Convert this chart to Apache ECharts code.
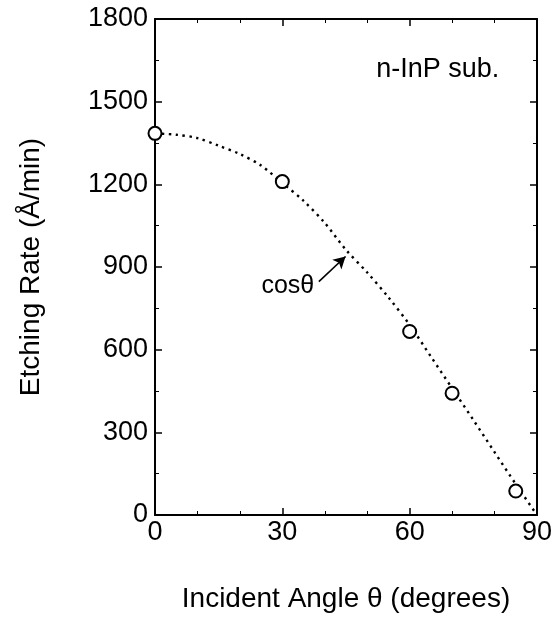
<!DOCTYPE html>
<html>
<head>
<meta charset="utf-8">
<script src="https://cdn.jsdelivr.net/npm/echarts@6/dist/echarts.min.js"></script>
<style>html,body{margin:0;padding:0;background:#fff}#c{width:555px;height:618px}</style>
</head>
<body>
<div id="c"></div>
<script>
// Measured points (open circles)
const measuredAngles = [0, 30, 60, 70, 85];
const measuredRates  = [1385, 1210, 666, 442, 87];
// cos(theta) dotted curve
const curveAngles = [0, 5, 10, 15, 20, 25, 30, 35, 40, 45, 50, 55, 60, 65, 70, 75, 80, 85, 90];
const curveRates  = [1385, 1380, 1368, 1340, 1310, 1268, 1205, 1140, 1060, 962, 880, 790, 690, 575, 460, 345, 228, 112, 0];
// Axis ticks
const xTicks = [0, 30, 60, 90];
const yTicks = [0, 300, 600, 900, 1200, 1500, 1800];
// Annotations (in data units)
const arrowFrom = [38.6, 847];
const arrowTo   = [44.9, 938];
const cosLabelAt = [31.3, 829];
const subLabelAt = [66.6, 1615];

const FONT = '"Liberation Sans", Arial, Helvetica, sans-serif';
const chart = echarts.init(document.getElementById('c'), null, {renderer: 'canvas'});

function axis(extra, split) {
  return Object.assign({
    type: 'value',
    axisLine: {show: true, onZero: false, lineStyle: {color: '#000', width: 2}},
    axisTick: {show: true, inside: true, length: 7, lineStyle: {color: '#000', width: 1.5}},
    minorTick: {show: true, splitNumber: split, length: 4, lineStyle: {color: '#000', width: 1}},
    splitLine: {show: false},
    minorSplitLine: {show: false},
    axisLabel: {show: false}
  }, extra);
}

chart.setOption({
  animation: false,
  backgroundColor: '#fff',
  grid: {left: 155, right: 15, top: 19, bottom: 102, containLabel: false},
  xAxis: [
    axis({
      position: 'bottom', min: xTicks[0], max: xTicks[xTicks.length - 1], interval: 30,
      axisLabel: {show: true, color: '#000', fontSize: 27, fontFamily: FONT, margin: 4},
      name: 'Incident Angle θ (degrees)', nameLocation: 'middle', nameGap: 70,
      nameTextStyle: {color: '#000', fontSize: 28, fontFamily: FONT}
    }, 3),
    axis({position: 'top', min: xTicks[0], max: xTicks[xTicks.length - 1], interval: 30}, 3)
  ],
  yAxis: [
    axis({
      position: 'left', min: yTicks[0], max: yTicks[yTicks.length - 1], interval: 300,
      axisLabel: {show: true, color: '#000', fontSize: 27, fontFamily: FONT, margin: 7,
        formatter: v => String(v)},
      name: 'Etching Rate (Å/min)', nameLocation: 'middle', nameGap: 110,
      nameTextStyle: {color: '#000', fontSize: 28, fontFamily: FONT}
    }, 2),
    axis({position: 'right', min: yTicks[0], max: yTicks[yTicks.length - 1], interval: 300}, 2)
  ],
  series: [
    {
      type: 'line',
      data: curveAngles.map((a, i) => [a, curveRates[i]]),
      smooth: 0.3,
      showSymbol: false,
      symbol: 'none',
      lineStyle: {color: '#000', width: 2.4, type: [2.4, 4.5]},
      z: 2,
      markLine: {
        silent: true,
        symbol: ['none', 'arrow'],
        symbolSize: [10, 12],
        lineStyle: {color: '#000', width: 1.6, type: 'solid'},
        label: {show: false},
        data: [[{coord: arrowFrom}, {coord: arrowTo}]]
      }
    },
    {
      type: 'scatter',
      data: measuredAngles.map((a, i) => [a, measuredRates[i]]),
      symbol: 'emptyCircle',
      symbolSize: 13,
      itemStyle: {color: '#000', borderColor: '#000', borderWidth: 1.8, opacity: 1},
      z: 3,
      markPoint: {
        silent: true,
        symbol: 'circle',
        symbolSize: 0,
        label: {show: true, color: '#000', fontFamily: FONT, position: 'inside'},
        data: [
          {coord: cosLabelAt, value: 'cosθ', label: {formatter: 'cosθ', fontSize: 25}},
          {coord: subLabelAt, value: 'n-InP sub.', label: {formatter: 'n-InP sub.', fontSize: 27}}
        ]
      }
    }
  ]
});
</script>
</body>
</html>
